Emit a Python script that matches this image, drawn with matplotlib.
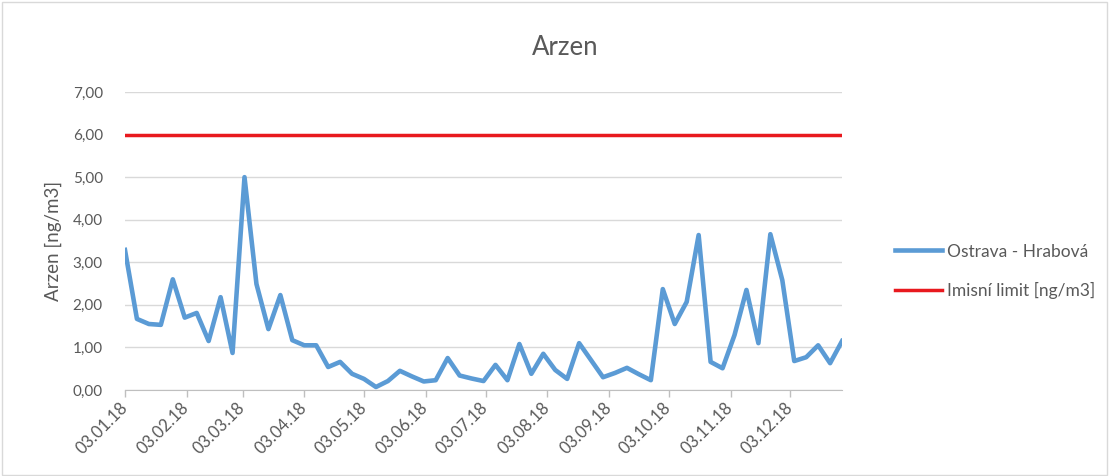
import matplotlib.pyplot as plt
import matplotlib.dates as mdates
import numpy as np
from datetime import date, timedelta
from matplotlib.patches import Rectangle

# Arsenic samples, one every 6 days starting 3 Jan 2018
start = date(2018, 1, 3)
arsenic = [3.29, 1.67, 1.55, 1.53, 2.60, 1.70, 1.81, 1.15, 2.18, 0.87,
           5.00, 2.49, 1.43, 2.23, 1.17, 1.05, 1.05, 0.54, 0.66, 0.38,
           0.26, 0.07, 0.21, 0.45, 0.32, 0.20, 0.23, 0.75, 0.34, 0.27,
           0.21, 0.59, 0.23, 1.08, 0.38, 0.85, 0.47, 0.26, 1.10, 0.70,
           0.30, 0.40, 0.52, 0.37, 0.23, 2.37, 1.55, 2.07, 3.64, 0.66,
           0.51, 1.29, 2.35, 1.10, 3.66, 2.58, 0.68, 0.77, 1.05, 0.63,
           1.15]
dates = [start + timedelta(days=6 * i) for i in range(len(arsenic))]
limit = 6.0
tick_dates = [date(2018, m, 3) for m in range(1, 13)]

grey = '#595959'
plt.rcParams['font.family'] = ['Lato', 'DejaVu Sans']

fig = plt.figure(figsize=(11.09, 4.76), dpi=100)
ax = fig.add_axes([0.1127, 0.1807, 0.6466, 0.626])

ax.plot(dates, arsenic, color='#5B9BD5', linewidth=3.3, solid_joinstyle='round',
        label='Ostrava - Hrabová', zorder=3)
ax.plot([dates[0], dates[-1]], [limit, limit], color='#E8191E', linewidth=2.5,
        label='Imisní limit [ng/m3]', zorder=3)

ax.set_xlim(dates[0], dates[-1])
ax.set_ylim(0, 7)
ax.set_yticks(np.arange(0, 8, 1))
ax.set_yticklabels([f'{v:.2f}'.replace('.', ',') for v in range(8)])
ax.yaxis.grid(True, color='#D9D9D9', linewidth=1)
ax.set_axisbelow(True)

ax.set_xticks(tick_dates)
ax.xaxis.set_major_formatter(mdates.DateFormatter('%d.%m.%y'))
for lbl in ax.get_xticklabels():
    lbl.set_rotation(45)
    lbl.set_rotation_mode('anchor')
    lbl.set_ha('right')
    lbl.set_va('center')

ax.tick_params(axis='x', colors='#BFBFBF', labelcolor=grey, labelsize=12,
               length=5, width=1, pad=6)
ax.tick_params(axis='y', length=0, labelcolor=grey, labelsize=11, pad=16)

for side in ['top', 'right', 'left']:
    ax.spines[side].set_visible(False)
ax.spines['bottom'].set_color('#BFBFBF')

ax.set_ylabel('Arzen [ng/m3]', color=grey, fontsize=13.5, labelpad=8)

fig.text(0.51, 0.901, 'Arzen', ha='center', va='center', color=grey, fontsize=18.5)

fig.legend(loc='center left', bbox_to_anchor=(0.807, 0.43), frameon=False,
           fontsize=12.5, labelcolor=grey, handlelength=2.7, handletextpad=0.3,
           labelspacing=1.3, borderpad=0, borderaxespad=0)

# chart frame
fig.patches.append(Rectangle((0.002, 0.002), 0.996, 0.994, transform=fig.transFigure,
                             fill=False, edgecolor='#D9D9D9', linewidth=1))

fig.savefig('out.png', dpi=100)
